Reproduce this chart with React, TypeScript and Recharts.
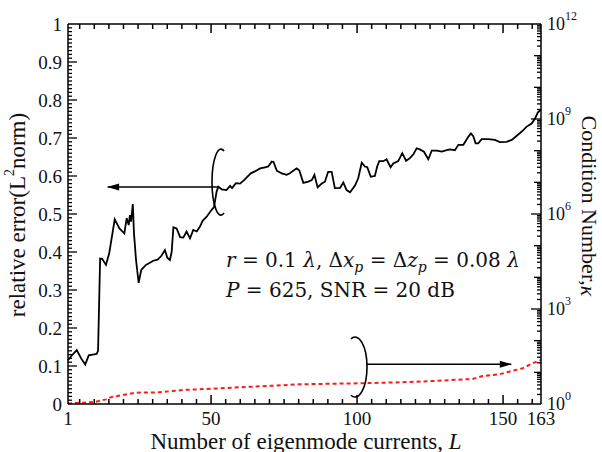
import { ComposedChart, Line, Scatter, XAxis, YAxis, ReferenceLine, ReferenceDot } from "recharts";

// relative error (left axis)
const errL = [1, 2, 4, 5.5, 6.9, 8.1, 9.5, 10.8, 11.3, 12, 12.7, 14, 15.1, 17, 18.6, 20.3, 21.1, 21.8, 22.2, 22.6, 23.2, 23.6, 24.3, 25.2, 26.1, 27.7, 30.2, 31.7, 33, 34.2, 35, 35.9, 36.5, 37.1, 38.2, 39.4, 40.5, 41.6, 42.8, 43.9, 45.1, 46.2, 47.1, 48.5, 50.2, 51, 51.9, 52.5, 53.6, 55.3, 56.5, 57.2, 58.5, 59.9, 61.3, 62.4, 63.6, 65, 66.8, 68.5, 69.6, 70.8, 71.4, 72.5, 74.2, 75.9, 77, 79.3, 80.2, 81.6, 83.3, 84.5, 85.4, 86.5, 87.9, 89, 90.1, 91.3, 92.4, 94.2, 95.3, 96.4, 97.6, 99.3, 100.4, 101.6, 102.7, 103.5, 104.7, 106.1, 106.9, 107.6, 109, 110.1, 111.5, 112.4, 114.1, 115.5, 116.8, 118.1, 119.3, 120.4, 121.5, 122.9, 124.4, 125.6, 127.3, 129, 130.7, 131.8, 133.5, 134.7, 136.4, 138.1, 139, 139.8, 140.6, 141.5, 142.7, 144.9, 147.2, 148.9, 151.2, 153, 154.1, 156.4, 158.1, 159.8, 161, 161.9, 163];
const errV = [0.115, 0.125, 0.142, 0.12, 0.104, 0.128, 0.13, 0.132, 0.14, 0.383, 0.382, 0.366, 0.396, 0.486, 0.462, 0.449, 0.489, 0.471, 0.497, 0.48, 0.526, 0.449, 0.379, 0.319, 0.353, 0.366, 0.377, 0.38, 0.39, 0.405, 0.385, 0.379, 0.4, 0.465, 0.462, 0.439, 0.438, 0.454, 0.436, 0.458, 0.454, 0.467, 0.482, 0.493, 0.511, 0.518, 0.559, 0.572, 0.565, 0.563, 0.574, 0.568, 0.581, 0.58, 0.589, 0.598, 0.607, 0.612, 0.62, 0.623, 0.625, 0.638, 0.637, 0.614, 0.607, 0.603, 0.607, 0.62, 0.615, 0.582, 0.585, 0.589, 0.603, 0.57, 0.58, 0.585, 0.611, 0.611, 0.568, 0.569, 0.583, 0.563, 0.557, 0.575, 0.594, 0.635, 0.625, 0.623, 0.598, 0.6, 0.625, 0.639, 0.639, 0.644, 0.623, 0.633, 0.639, 0.66, 0.64, 0.647, 0.657, 0.673, 0.67, 0.664, 0.644, 0.667, 0.667, 0.664, 0.668, 0.67, 0.668, 0.682, 0.682, 0.703, 0.712, 0.705, 0.686, 0.686, 0.697, 0.697, 0.695, 0.689, 0.69, 0.695, 0.702, 0.717, 0.73, 0.738, 0.752, 0.767, 0.775];

// condition number (right axis, log), red dotted curve
const condL = [1, 3.7, 10.6, 14, 15.7, 24.3, 32.3, 40.3, 48.3, 57.4, 68.8, 80.2, 91.6, 100.8, 114.5, 125.9, 139.6, 143, 148.7, 152.1, 156.7, 160.1, 163];
const condV = [1.04, 1.07, 1.18, 1.4, 1.63, 2.28, 2.34, 2.77, 2.98, 3.28, 3.7, 4.17, 4.37, 4.5, 4.83, 5.32, 6.16, 7.65, 8.65, 10.5, 13.4, 19.3, 24.5];

const xLabels = [1, 50, 100, 150, 163];
const xMajor = [50, 100, 150];
const yLabels = [0, 0.1, 0.2, 0.3, 0.4, 0.5, 0.6, 0.7, 0.8, 0.9, 1];
const kappaLabels = [0, 3, 6, 9, 12];

const errData = errL.map((L, i) => ({ L, v: errV[i] }));
const condData = condL.map((L, i) => ({ L, k: condV[i] }));

// tick-mark positions: every 5 on x, every 0.01 on the left, 1..9 per decade on the right
const xMinor: number[] = [];
for (let t = 5; t <= 160; t += 5) if (!xMajor.includes(t)) xMinor.push(t);
const yMinor: number[] = [];
for (let i = 1; i < 100; i++) if (i % 10 !== 0) yMinor.push(i / 100);
const kMinor: number[] = [];
const kDecade: number[] = [];
for (let e = 0; e < 12; e++)
  for (let m = 1; m <= 9; m++) {
    if (m === 1) {
      if (e % 3 !== 0) kDecade.push(Math.pow(10, e));
    } else kMinor.push(m * Math.pow(10, e));
  }

const bottomMinor = xMinor.map((L) => ({ L, v: 0 }));
const bottomMajor = xMajor.map((L) => ({ L, v: 0 }));
const topMinor = xMinor.map((L) => ({ L, v: 1 }));
const topMajor = xMajor.map((L) => ({ L, v: 1 }));
const leftMinor = yMinor.map((v) => ({ L: 1, v }));
const leftMajor = yLabels.slice(1, -1).map((v) => ({ L: 1, v }));
const rightMinor = kMinor.map((k) => ({ L: 163, k }));
const rightDecade = kDecade.map((k) => ({ L: 163, k }));
const rightMajor = kappaLabels.slice(1, -1).map((e) => ({ L: 163, k: Math.pow(10, e) }));

const serif = "Liberation Serif, Times New Roman, serif";
const mathFont = "DejaVu Serif, serif";
const txt = { fontFamily: serif, fill: "#111" };

const BottomTick = ({ x, y, payload }: any) => (
  <text x={x} y={Number(y) + 14} textAnchor="middle" dominantBaseline="central" style={{ ...txt, fontSize: 19 }}>
    {payload.value}
  </text>
);

const LeftTick = ({ x, y, payload }: any) => (
  <text x={Number(x) - 6} y={y} textAnchor="end" dominantBaseline="central" style={{ ...txt, fontSize: 19 }}>
    {payload.value}
  </text>
);

const RightTick = ({ x, y, payload }: any) => (
  <text x={Number(x) + 6} y={y} dominantBaseline="central" style={{ ...txt, fontSize: 18 }}>
    10
    <tspan dy={-8} style={{ fontSize: 12 }}>
      {Math.round(Math.log10(payload.value))}
    </tspan>
  </text>
);

const vTick = (len: number) => (p: any) => (
  <path d={`M${p.cx},${p.cy}v${len}`} stroke="#000" strokeWidth={1.5} fill="none" />
);
const hTick = (len: number) => (p: any) => (
  <path d={`M${p.cx},${p.cy}h${len}`} stroke="#000" strokeWidth={1.3} fill="none" />
);

const arrowLeft = ({ cx, cy }: any) => (
  <path d={`M${cx},${cy} L${cx + 12},${cy - 3.5} L${cx + 12},${cy + 3.5} Z`} fill="#000" />
);
const arrowRight = ({ cx, cy }: any) => (
  <path d={`M${cx},${cy} L${cx - 12},${cy - 3.5} L${cx - 12},${cy + 3.5} Z`} fill="#000" />
);
const arc = (rx: number, ry: number, open: "left" | "right") => ({ cx, cy }: any) => {
  const c = 0.342;
  const s = 0.94;
  const sx = open === "right" ? cx + rx * c : cx - rx * c;
  const sweep = open === "right" ? 0 : 1;
  return (
    <path
      d={`M${sx},${cy - ry * s} A${rx},${ry} 0 1 ${sweep} ${sx},${cy + ry * s}`}
      fill="none"
      stroke="#000"
      strokeWidth={1.6}
    />
  );
};

const axisLine = { stroke: "#000", strokeWidth: 1.5 };

export default function App() {
  return (
    <div style={{ position: "absolute", left: 0, top: 0, width: 602, height: 452, background: "#fff" }}>
      <ComposedChart width={602} height={452} margin={{ top: 24, right: 0, bottom: 0, left: 0 }}>
        <XAxis
          xAxisId="b"
          dataKey="L"
          type="number"
          domain={[1, 163]}
          ticks={xLabels}
          interval={0}
          height={48}
          tickSize={0}
          tickMargin={0}
          tickLine={false}
          axisLine={axisLine}
          tick={BottomTick}
        />
        <YAxis
          yAxisId="l"
          dataKey="v"
          type="number"
          domain={[0, 1]}
          ticks={yLabels}
          interval={0}
          width={68}
          tickSize={0}
          tickMargin={0}
          tickLine={false}
          axisLine={axisLine}
          tick={LeftTick}
        />
        <YAxis
          yAxisId="r"
          dataKey="k"
          orientation="right"
          type="number"
          scale="log"
          domain={[1, 1e12]}
          ticks={kappaLabels.map((e) => Math.pow(10, e))}
          interval={0}
          width={61}
          tickSize={0}
          tickMargin={0}
          tickLine={false}
          axisLine={axisLine}
          tick={RightTick}
        />
        <ReferenceLine xAxisId="b" yAxisId="l" y={1} stroke="#000" strokeWidth={1.5} />

        <Scatter data={bottomMinor} xAxisId="b" yAxisId="l" shape={vTick(-5)} isAnimationActive={false} />
        <Scatter data={bottomMajor} xAxisId="b" yAxisId="l" shape={vTick(-9)} isAnimationActive={false} />
        <Scatter data={topMinor} xAxisId="b" yAxisId="l" shape={vTick(5)} isAnimationActive={false} />
        <Scatter data={topMajor} xAxisId="b" yAxisId="l" shape={vTick(9)} isAnimationActive={false} />
        <Scatter data={leftMinor} xAxisId="b" yAxisId="l" shape={hTick(4)} isAnimationActive={false} />
        <Scatter data={leftMajor} xAxisId="b" yAxisId="l" shape={hTick(9)} isAnimationActive={false} />
        <Scatter data={rightMinor} xAxisId="b" yAxisId="r" shape={hTick(-4)} isAnimationActive={false} />
        <Scatter data={rightDecade} xAxisId="b" yAxisId="r" shape={hTick(-7)} isAnimationActive={false} />
        <Scatter data={rightMajor} xAxisId="b" yAxisId="r" shape={hTick(-10)} isAnimationActive={false} />

        <Line
          data={errData}
          dataKey="v"
          xAxisId="b"
          yAxisId="l"
          type="linear"
          stroke="#000"
          strokeWidth={1.8}
          dot={false}
          isAnimationActive={false}
        />
        <Line
          data={condData}
          dataKey="k"
          xAxisId="b"
          yAxisId="r"
          type="linear"
          stroke="#ff1a1a"
          strokeWidth={2}
          strokeDasharray="4 3"
          dot={false}
          isAnimationActive={false}
        />

        <ReferenceLine
          xAxisId="b"
          yAxisId="l"
          segment={[{ x: 14.6, y: 0.571 }, { x: 52.4, y: 0.571 }]}
          stroke="#000"
          strokeWidth={1.5}
        />
        <ReferenceDot xAxisId="b" yAxisId="l" x={14.4} y={0.571} r={0} shape={arrowLeft} />
        <ReferenceDot xAxisId="b" yAxisId="l" x={53.4} y={0.584} r={0} shape={arc(9, 33, "right")} />
        <ReferenceLine
          xAxisId="b"
          yAxisId="r"
          segment={[{ x: 103.3, y: 17.9 }, { x: 152.8, y: 17.9 }]}
          stroke="#000"
          strokeWidth={1.5}
        />
        <ReferenceDot xAxisId="b" yAxisId="r" x={153} y={17.9} r={0} shape={arrowRight} />
        <ReferenceDot xAxisId="b" yAxisId="r" x={99.3} y={14.7} r={0} shape={arc(12, 30, "left")} />
      </ComposedChart>
      <svg width={602} height={452} style={{ position: "absolute", left: 0, top: 0, pointerEvents: "none" }}>
        <text
          transform="translate(17,215) rotate(-90)"
          textAnchor="middle"
          dominantBaseline="central"
          style={{ ...txt, fontSize: 23 }}
        >
          relative error(L
          <tspan dy={-8} style={{ fontSize: 14 }}>
            2
          </tspan>
          <tspan dy={8}>norm)</tspan>
        </text>
        <text
          transform="translate(589,206) rotate(90)"
          textAnchor="middle"
          dominantBaseline="central"
          style={{ ...txt, fontSize: 22 }}
        >
          Condition Number,<tspan style={{ fontStyle: "italic" }}>κ</tspan>
        </text>
        <text x={306} y={441} textAnchor="middle" dominantBaseline="central" style={{ ...txt, fontSize: 23 }}>
          Number of eigenmode currents, <tspan style={{ fontStyle: "italic" }}>L</tspan>
        </text>
        <text x={226} y={267} style={{ fontFamily: mathFont, fill: "#111", fontSize: 20 }}>
          <tspan style={{ fontStyle: "italic" }}>r</tspan> = 0.1 <tspan style={{ fontStyle: "italic" }}>λ</tspan>, Δ
          <tspan style={{ fontStyle: "italic" }}>x</tspan>
          <tspan dy={5} style={{ fontSize: 14, fontStyle: "italic" }}>
            p
          </tspan>
          <tspan dy={-5}> = Δ</tspan>
          <tspan style={{ fontStyle: "italic" }}>z</tspan>
          <tspan dy={5} style={{ fontSize: 14, fontStyle: "italic" }}>
            p
          </tspan>
          <tspan dy={-5}> = 0.08 </tspan>
          <tspan style={{ fontStyle: "italic" }}>λ</tspan>
        </text>
        <text x={226} y={297} style={{ fontFamily: mathFont, fill: "#111", fontSize: 20 }}>
          <tspan style={{ fontStyle: "italic" }}>P</tspan> = 625, SNR = 20 dB
        </text>
      </svg>
    </div>
  );
}
